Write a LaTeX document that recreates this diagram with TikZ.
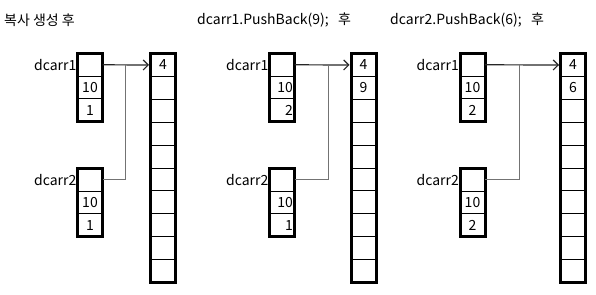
\documentclass[tikz,border=0pt]{standalone}
\usepackage{fontspec}
\setmainfont{Noto Sans CJK KR}
\usetikzlibrary{positioning, arrows.meta}

\begin{document}
\begin{tikzpicture}[
    x=1pt, y=-1pt,
    cell/.style={rectangle, draw, line width=1pt, minimum width=25pt, minimum height=22.67pt, inner sep=0pt, outer sep=0pt, font=\fontsize{14}{16}\selectfont},
    rcell/.style={cell, text width=22pt, align=right},
    acell/.style={cell, minimum height=22.9pt},
    frame/.style={line width=3pt},
    title/.style={anchor=west, inner sep=0pt, font=\fontsize{14}{16}\selectfont},
    var/.style={anchor=east, inner sep=1pt, font=\fontsize{14}{16}\selectfont},
    arrow/.style={line width=1.2pt, -{Straight Barb[length=5pt, width=10pt]}, shorten >=1.5pt, color=black!85},
    link/.style={line width=1pt, color=black!55}
]
\useasboundingbox (0,0) rectangle (596,294);

% panel 1
\node[title] (t1) at (4,20) {복사 생성 후};
\node[cell] (p1a) at (90,64.8) {};
\node[cell, below=0pt of p1a] (p1b) {10};
\node[cell, below=0pt of p1b] (p1c) {1};
\draw[frame] (p1a.north west) rectangle (p1c.south east);
\node[var] (v1a) at (p1a.west) {dcarr1};
\node[cell] (q1a) at (90,179.8) {};
\node[cell, below=0pt of q1a] (q1b) {10};
\node[cell, below=0pt of q1b] (q1c) {1};
\draw[frame] (q1a.north west) rectangle (q1c.south east);
\node[var] (v1b) at (q1a.west) {dcarr2};
\node[acell] (r1-1) at (163,65) {4};
\foreach \i in {2,...,10} {
    \pgfmathtruncatemacro\j{\i-1}
    \node[acell, below=0pt of r1-\j] (r1-\i) {};
}
\draw[frame] (r1-1.north west) rectangle (r1-10.south east);
\coordinate (j1) at (125,65);
\draw[arrow] (p1a.east) -- (r1-1.west);
\draw[link] (q1a.east) -| (j1);

% panel 2
\node[title] (t2) at (197,20) {dcarr1.PushBack(9);\ \ \ 후};
\node[rcell] (p2a) at (282,64.8) {};
\node[rcell, below=0pt of p2a] (p2b) {10};
\node[rcell, below=0pt of p2b] (p2c) {2};
\draw[frame] (p2a.north west) rectangle (p2c.south east);
\node[var] (v2a) at (p2a.west) {dcarr1};
\node[rcell] (q2a) at (282,179.8) {};
\node[rcell, below=0pt of q2a] (q2b) {10};
\node[rcell, below=0pt of q2b] (q2c) {1};
\draw[frame] (q2a.north west) rectangle (q2c.south east);
\node[var] (v2b) at (q2a.west) {dcarr2};
\node[acell] (r2-1) at (363.5,65) {4};
\node[acell, below=0pt of r2-1] (r2-2) {9};
\foreach \i in {3,...,10} {
    \pgfmathtruncatemacro\j{\i-1}
    \node[acell, below=0pt of r2-\j] (r2-\i) {};
}
\draw[frame] (r2-1.north west) rectangle (r2-10.south east);
\coordinate (j2) at (328,65);
\draw[arrow] (p2a.east) -- (r2-1.west);
\draw[link] (q2a.east) -| (j2);

% panel 3
\node[title] (t3) at (390,20) {dcarr2.PushBack(6);\ \ \ 후};
\node[cell] (p3a) at (472.5,64.8) {};
\node[cell, below=0pt of p3a] (p3b) {10};
\node[cell, below=0pt of p3b] (p3c) {2};
\draw[frame] (p3a.north west) rectangle (p3c.south east);
\node[var] (v3a) at (p3a.west) {dcarr1};
\node[cell] (q3a) at (472.5,179.8) {};
\node[cell, below=0pt of q3a] (q3b) {10};
\node[cell, below=0pt of q3b] (q3c) {2};
\draw[frame] (q3a.north west) rectangle (q3c.south east);
\node[var] (v3b) at (q3a.west) {dcarr2};
\node[acell] (r3-1) at (573,65) {4};
\node[acell, below=0pt of r3-1] (r3-2) {6};
\foreach \i in {3,...,10} {
    \pgfmathtruncatemacro\j{\i-1}
    \node[acell, below=0pt of r3-\j] (r3-\i) {};
}
\draw[frame] (r3-1.north west) rectangle (r3-10.south east);
\coordinate (j3) at (519,65);
\draw[arrow] (p3a.east) -- (r3-1.west);
\draw[link] (q3a.east) -| (j3);
\end{tikzpicture}
\end{document}
